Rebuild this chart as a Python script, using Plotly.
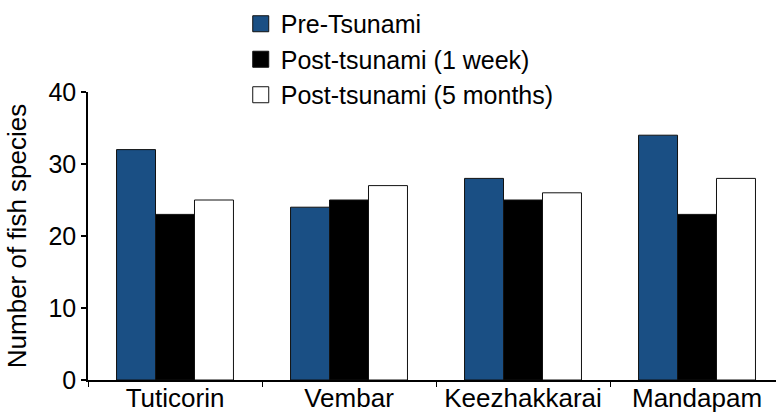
import plotly.graph_objects as go

sites = ["Tuticorin", "Vembar", "Keezhakkarai", "Mandapam"]
series_names = ["Pre-Tsunami", "Post-tsunami (1 week)", "Post-tsunami (5 months)"]
pre_tsunami = [32, 24, 28, 34]
post_1_week = [23, 25, 25, 23]
post_5_months = [25, 27, 26, 28]
y_ticks = [0, 10, 20, 30, 40]

colors = ["#1a4f84", "#000000", "#ffffff"]
values = [pre_tsunami, post_1_week, post_5_months]

FONT = "Liberation Sans, Arial, Helvetica, sans-serif"

fig = go.Figure()
for name, vals, col in zip(series_names, values, colors):
    fig.add_trace(go.Bar(
        x=sites, y=vals, name=name, showlegend=False,
        marker=dict(color=col, line=dict(color="#111111", width=1)),
    ))
# legend entries with larger square swatches
for name, col in zip(series_names, colors):
    fig.add_trace(go.Scatter(
        x=[None], y=[None], mode="markers", name=name,
        marker=dict(symbol="square", size=20, color=col,
                    line=dict(color="#111111", width=1)),
    ))

fig.update_layout(
    width=776, height=414,
    margin=dict(l=88, r=0, t=92, b=34, autoexpand=False),
    paper_bgcolor="white", plot_bgcolor="white",
    font=dict(family=FONT, size=26, color="black"),
    barmode="group", bargap=0.328, bargroupgap=0,
    legend=dict(x=0.222, y=1.316, xanchor="left", yanchor="top",
                font=dict(size=25), itemsizing="trace",
                tracegroupgap=0, bgcolor="rgba(0,0,0,0)"),
    xaxis=dict(
        type="category", range=[-0.5, 3.454],
        showline=True, linecolor="black", linewidth=1.5,
        ticks="outside", tickson="boundaries", ticklen=5, tickcolor="black",
        tickwidth=1, showgrid=False, zeroline=False,
        tickfont=dict(size=26), ticklabelstandoff=-6,
    ),
    yaxis=dict(
        range=[0, 40], tickvals=y_ticks,
        showline=True, linecolor="black", linewidth=1.5,
        ticks="outside", ticklen=5, tickcolor="black", tickwidth=1.5,
        showgrid=False, zeroline=False,
        tickfont=dict(size=25),
        title=dict(text="Number of fish species", font=dict(size=26), standoff=14),
    ),
)

fig.write_html("out.html", config={"displayModeBar": False},
               post_script="document.body.style.margin='0';document.body.style.padding='0';")
